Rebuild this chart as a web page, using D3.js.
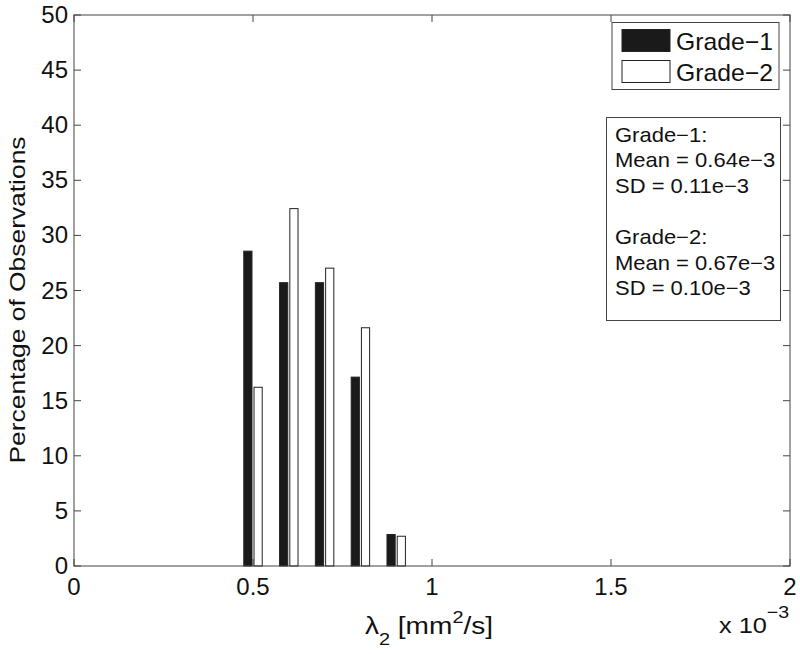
<!DOCTYPE html>
<html>
<head>
<meta charset="utf-8">
<script src="https://cdn.jsdelivr.net/npm/d3@7"></script>
<style>
  body { margin: 0; background: #fff; }
  svg { font-family: "Liberation Sans", Arial, sans-serif; }
</style>
</head>
<body>
<svg width="800" height="654"></svg>
<script>
// bin centres (x 10^-3 mm^2/s)
const bins = [0.5, 0.6, 0.7, 0.8, 0.9];
const grade1 = [28.57, 25.71, 25.71, 17.14, 2.86];
const grade2 = [16.22, 32.43, 27.03, 21.62, 2.7];
const seriesNames = ["Grade\u22121", "Grade\u22122"];
const xTicks = [0, 0.5, 1, 1.5, 2];
const yTicks = [0, 5, 10, 15, 20, 25, 30, 35, 40, 45, 50];
const statsLines = ["Grade\u22121:", "Mean = 0.64e\u22123", "SD = 0.11e\u22123", "",
  "Grade\u22122:", "Mean = 0.67e\u22123", "SD = 0.10e\u22123"];

const svg = d3.select("svg");
const pLeft = 74, pRight = 790, pTop = 15, pBottom = 566;
const axisColor = "#444";
const textColor = "#111";

const x = d3.scaleLinear().domain([0, 2]).range([pLeft, pRight]);
const y = d3.scaleLinear().domain([0, 50]).range([pBottom, pTop]);

// bars (grouped, MATLAB style)
const barW = 0.0229, offset = 0.0143;
const series = [
  { vals: grade1, fill: "#1a1a1a", dx: -offset },
  { vals: grade2, fill: "#fff", dx: offset },
];
series.forEach((s) => {
  svg.append("g")
    .selectAll("rect")
    .data(bins)
    .enter()
    .append("rect")
    .attr("x", (d) => x(d + s.dx - barW / 2))
    .attr("width", x(barW) - x(0))
    .attr("y", (d, i) => y(s.vals[i]))
    .attr("height", (d, i) => y(0) - y(s.vals[i]))
    .attr("fill", s.fill)
    .attr("stroke", "#222")
    .attr("stroke-width", 1);
});

// axes with ticks inside, box on
const tickLen = 7;
const axisG = svg.append("g").attr("stroke", axisColor).attr("stroke-width", 1).attr("fill", "none");
axisG.append("rect")
  .attr("x", pLeft).attr("y", pTop)
  .attr("width", pRight - pLeft).attr("height", pBottom - pTop);
yTicks.forEach((t) => {
  axisG.append("line").attr("x1", pLeft).attr("x2", pLeft + tickLen).attr("y1", y(t)).attr("y2", y(t));
  axisG.append("line").attr("x1", pRight).attr("x2", pRight - tickLen).attr("y1", y(t)).attr("y2", y(t));
});
xTicks.forEach((t) => {
  axisG.append("line").attr("x1", x(t)).attr("x2", x(t)).attr("y1", pBottom).attr("y2", pBottom - tickLen);
  axisG.append("line").attr("x1", x(t)).attr("x2", x(t)).attr("y1", pTop).attr("y2", pTop + tickLen);
});

// tick labels
svg.append("g")
  .selectAll("text")
  .data(yTicks)
  .enter()
  .append("text")
  .attr("x", pLeft - 6)
  .attr("y", (d) => y(d) + 8)
  .attr("text-anchor", "end")
  .attr("font-size", 24)
  .attr("fill", textColor)
  .text((d) => d);

svg.append("g")
  .selectAll("text")
  .data(xTicks)
  .enter()
  .append("text")
  .attr("x", (d) => x(d))
  .attr("y", 595)
  .attr("text-anchor", "middle")
  .attr("font-size", 24)
  .attr("fill", textColor)
  .text((d) => d);

// axis labels (the original print stretches these a bit)
svg.append("text")
  .attr("transform", "translate(25, 300) rotate(-90) scale(1.2, 1)")
  .attr("text-anchor", "middle")
  .attr("font-size", 22)
  .attr("fill", textColor)
  .text("Percentage of Observations");

const xl = svg.append("text")
  .attr("transform", "translate(429, 634) scale(1.17, 1)")
  .attr("text-anchor", "middle")
  .attr("font-size", 24)
  .attr("fill", textColor);
xl.append("tspan").text("\u03bb");
xl.append("tspan").attr("dy", 11).attr("font-size", 17).text("2");
xl.append("tspan").attr("dy", -11).text(" [mm");
xl.append("tspan").attr("dy", -11).attr("font-size", 17).text("2");
xl.append("tspan").attr("dy", 11).text("/s]");

const ex = svg.append("text")
  .attr("transform", "translate(719, 633) scale(1.15, 1)")
  .attr("font-size", 22)
  .attr("fill", textColor);
ex.append("tspan").text("x 10");
ex.append("tspan").attr("dy", -15).attr("font-size", 17).text("\u22123");

// legend
const legend = svg.append("g");
legend.append("rect")
  .attr("x", 612).attr("y", 22.5).attr("width", 167).attr("height", 67)
  .attr("fill", "#fff").attr("stroke", axisColor);
series.forEach((s, i) => {
  legend.append("rect")
    .attr("x", 622).attr("y", 29.5 + i * 31)
    .attr("width", 48).attr("height", 22)
    .attr("fill", s.fill).attr("stroke", "#222");
  legend.append("text")
    .attr("transform", `translate(676, ${50 + i * 31}) scale(1.03, 1)`)
    .attr("font-size", 24)
    .attr("fill", textColor)
    .text(seriesNames[i]);
});

// stats box
const stats = svg.append("g");
stats.append("rect")
  .attr("x", 606.5).attr("y", 117.5).attr("width", 174).attr("height", 203)
  .attr("fill", "#fff").attr("stroke", axisColor);
stats.selectAll("text")
  .data(statsLines)
  .enter()
  .append("text")
  .attr("transform", (d, i) => `translate(615, ${141.5 + i * 25.6}) scale(1.1, 1)`)
  .attr("font-size", 20)
  .attr("fill", textColor)
  .text((d) => d);
</script>
</body>
</html>
